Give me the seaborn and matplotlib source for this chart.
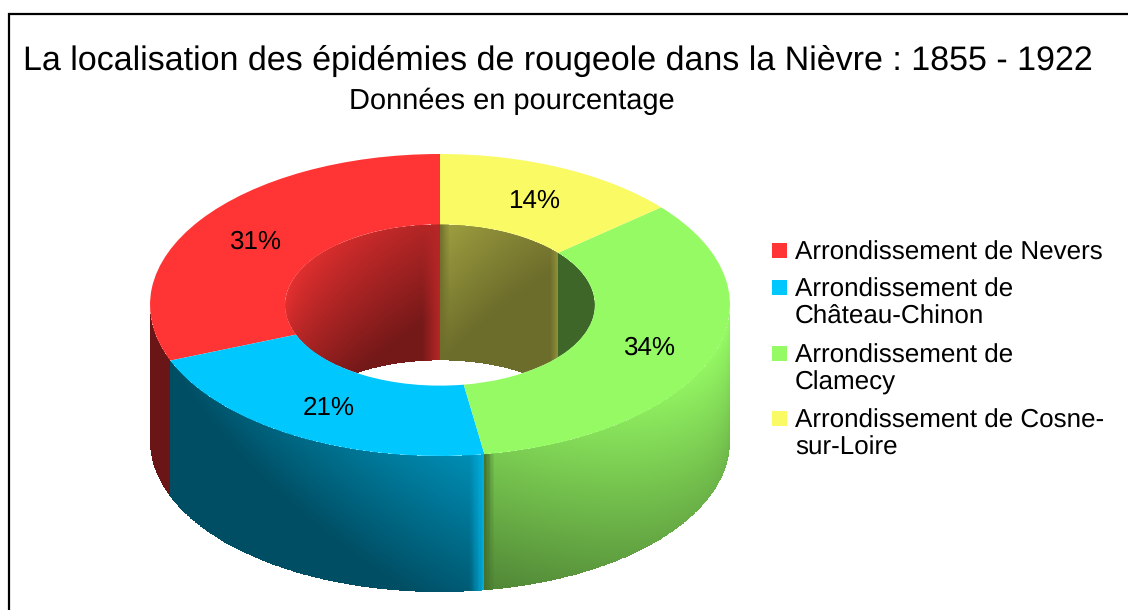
import numpy as np
import matplotlib
matplotlib.use("Agg")
import matplotlib.pyplot as plt
import seaborn as sns
from matplotlib.patches import Ellipse, Rectangle

title = "La localisation des épidémies de rougeole dans la Nièvre : 1855 - 1922"
subtitle = "Données en pourcentage"
categories = ["Arrondissement de Nevers", "Arrondissement de\nChâteau-Chinon",
              "Arrondissement de\nClamecy", "Arrondissement de Cosne-\nsur-Loire"]
values = [31.0, 21.45, 33.75, 13.8]
hex_colors = ["#FF3535", "#00C8FF", "#96FA64", "#FAFA64"]

# donut geometry in pixels of the 1128x610 picture
W, H = 1128, 610
CX, CY = 440, 305
RX, RY = 290, 151
HOLE = 0.534
DEPTH = 136 / RY

# wall shading: start, slope along x, slope along height, floor, left strip, right strip
outer_shade = [
    (0.42, 0.0, 0.0, 0.3, None, None),
    (0.39, 0.33, -0.25, 0.39, None, (15, 0.88)),
    (0.80, 0.20, -0.27, 0.3, (10, 0.45), None),
    (1, 0, 0, 1, None, None),
]
inner_shade = [
    (0.90, -0.22, -0.34, 0.46, None, (18, 0.72)),
    (1, 0, 0, 1, None, None),
    (0.41, 0, 0, 0.41, None, None),
    (0.64, -0.18, -0.20, 0.43, (10, 0.44), (8, 0.58)),
]

sns.set_theme(style="white")
plt.rcParams["font.family"] = ["Liberation Sans", "DejaVu Sans"]
plt.rcParams["text.hinting"] = "no_hinting"
plt.rcParams["text.hinting_factor"] = 1
palette = sns.color_palette(hex_colors)

fig = plt.figure(figsize=(W / 100, H / 100), dpi=100, facecolor="white")
ax = fig.add_axes([0, 0, 1, 1])

wedges, _, autotexts = ax.pie(values, colors=palette, startangle=90, radius=1,
                              autopct="%.0f%%", pctdistance=0.77,
                              wedgeprops=dict(width=1 - HOLE, linewidth=0),
                              textprops=dict(fontsize=18.7, color="black"))
for w in wedges:
    w.set_zorder(5)
for t in autotexts:
    t.set_zorder(6)
    x, y = t.get_position()
    t.set_position((x, y - 2 / RY))
ax.set_aspect("auto")
ax.set_xlim(-CX / RX, (W - CX) / RX)
ax.set_ylim(-(H - CY) / RY, CY / RY)


def draw_wall(t0, t1, r, color, shade, clip=None):
    if t1 <= t0:
        return
    s0, su, sv, floor, left, right = shade
    t = np.radians(np.linspace(t0, t1, 300))
    v = np.linspace(0, 1, 90)
    T, V = np.meshgrid(t, v)
    X = r * np.cos(T)
    Y = r * np.sin(T) - V * DEPTH
    xc = 0.25 * (X[:-1, :-1] + X[1:, :-1] + X[:-1, 1:] + X[1:, 1:])
    vc = 0.5 * (V[:-1, :-1] + V[1:, :-1])
    lo, hi = X.min(), X.max()
    u = (xc - lo) / (hi - lo)
    s = np.maximum(floor, s0 + su * u + sv * vc)
    if left:
        k = np.clip(1 - (xc - lo) * RX / left[0], 0, 1)
        s = s + (left[1] - s) * k
    if right:
        k = np.clip(1 - (hi - xc) * RX / right[0], 0, 1)
        s = s + (right[1] - s) * k
    rgb = np.clip(s[..., None] * np.array(color), 0, 1)
    mesh = ax.pcolormesh(X, Y, rgb, shading="flat", linewidth=0, zorder=2)
    if clip is not None:
        mesh.set_clip_path(clip)


hole_clip = Ellipse((0, 0), 2 * HOLE, 2 * HOLE, transform=ax.transData)
for i, w in enumerate(wedges):
    a, b = w.theta1, w.theta2
    # front of the ring
    draw_wall(max(a, 180), min(b, 360), 1.0, palette[i], outer_shade[i])
    # back of the hole, also when the slice runs past 360 degrees
    draw_wall(max(a, 0), min(b, 180), HOLE, palette[i], inner_shade[i], hole_clip)
    draw_wall(max(a - 360, 0), min(b - 360, 180), HOLE, palette[i], inner_shade[i], hole_clip)
ax.set_xlim(-CX / RX, (W - CX) / RX)
ax.set_ylim(-(H - CY) / RY, CY / RY)

# overlay in pixels for frame, titles and legend
px = fig.add_axes([0, 0, 1, 1], facecolor="none")
px.set_xlim(0, W)
px.set_ylim(H, 0)
px.axis("off")
px.plot([9, 9, W], [H, 14, 14], color="black", lw=1.6, solid_joinstyle="miter")
px.text(558, 61, title, fontsize=24.72, ha="center", va="center", color="black")
px.text(512, 101, subtitle, fontsize=21, ha="center", va="center", color="black")

legend_tops = [243, 280, 346, 411]
for top, label, color in zip(legend_tops, categories, palette):
    px.add_patch(Rectangle((772, top), 15, 15, facecolor=color, edgecolor="none"))
    px.text(795, top - 2, label, fontsize=19, va="top", ha="left",
            color="black", linespacing=1.13)

fig.savefig("out.png", dpi=100)
